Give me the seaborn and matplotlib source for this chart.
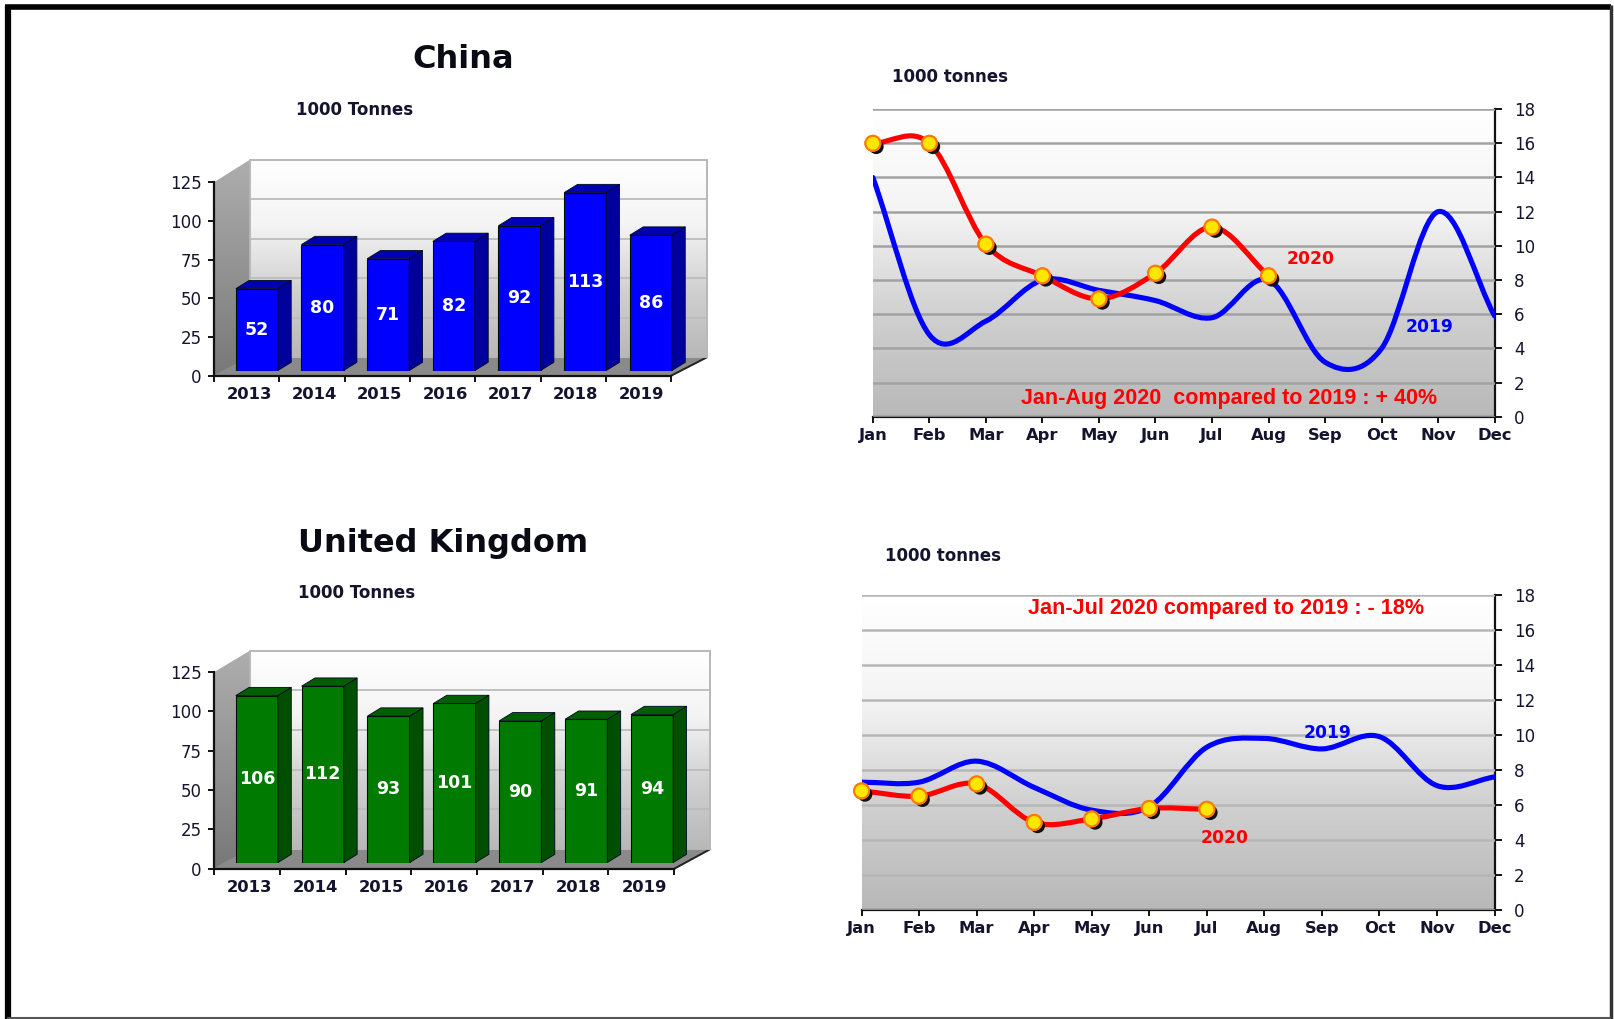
import numpy as np
import pandas as pd
import seaborn as sns
import matplotlib.pyplot as plt
import matplotlib.patheffects as pe
from matplotlib.path import Path
from matplotlib.patches import PathPatch, Polygon, Rectangle
from matplotlib.colors import LinearSegmentedColormap

years = ["2013", "2014", "2015", "2016", "2017", "2018", "2019"]
months = ["Jan", "Feb", "Mar", "Apr", "May", "Jun", "Jul", "Aug", "Sep", "Oct", "Nov", "Dec"]
china_years = [52, 80, 71, 82, 92, 113, 86]
uk_years = [106, 112, 93, 101, 90, 91, 94]
china_2019 = [14.0, 4.8, 5.6, 8.0, 7.4, 6.8, 5.8, 8.0, 3.2, 4.0, 12.0, 5.9]
china_2020 = [16.0, 16.0, 10.1, 8.25, 6.9, 8.4, 11.1, 8.25]
uk_2019 = [7.3, 7.3, 8.5, 7.0, 5.7, 5.9, 9.3, 9.8, 9.2, 9.9, 7.1, 7.6]
uk_2020 = [6.8, 6.5, 7.2, 5.0, 5.2, 5.8, 5.75]

sns.set_style("white")
plt.rcParams["font.family"] = ["DejaVu Sans"]

W, H = 1568, 990
INK = "#14142e"
fig = plt.figure(figsize=(16.14, 10.19), dpi=100)
wall_cmap = LinearSegmentedColormap.from_list("wall", ["#ffffff", "#f4f4f4", "#d0d0d0", "#b8b8b8"])
side_cmap = LinearSegmentedColormap.from_list("side", ["#aeaeae", "#787878"])
ramp = np.linspace(0, 1, 256).reshape(-1, 1)


def box(l, t, r, b, **kw):
    return fig.add_axes([l / W, 1 - b / H, (r - l) / W, (b - t) / H], **kw)


under = box(0, 0, W, H, zorder=0)
over = box(0, 0, W, H, zorder=10)
for a in (under, over):
    a.set_xlim(0, W)
    a.set_ylim(H, 0)
    a.axis("off")
    a.patch.set_alpha(0)


def bar_panel(values, face, side, top, wall, axis_r, y0, y125, first, pitch, base):
    l, t, r, b = wall
    # back wall, side wall and floor
    under.imshow(ramp, cmap=wall_cmap, extent=[l, r, b, t], aspect="auto", zorder=1)
    im = under.imshow(ramp, cmap=side_cmap, extent=[208, l, y0, t], aspect="auto", zorder=1)
    clip = Polygon([(208, y125), (l, t), (l, b), (208, y0)], transform=under.transData, fc="none", ec="none")
    under.add_patch(clip)
    im.set_clip_path(clip)
    under.add_patch(Polygon([(208, y0), (l, b), (r, b), (axis_r, y0)], fc="#8a8a8a", ec="#8a8a8a", zorder=2))
    under.plot([axis_r, r], [y0, b], color="#222222", lw=1.4, zorder=3)
    step = (b - t) / 5
    for i in range(1, 5):
        under.plot([l, r], [t + i * step] * 2, color="#bcbcbc", lw=1.3, zorder=3)
    under.add_patch(Rectangle((l, t), r - l, b - t, fc="none", ec="#b8b8b8", lw=1.4, zorder=3))
    under.set_xlim(0, W)
    under.set_ylim(H, 0)

    # axis frame
    frame = box(208, y125, axis_r, y0, zorder=2)
    frame.patch.set_alpha(0)
    frame.set_xlim(0, 7)
    frame.set_ylim(0, 125)
    sns.despine(ax=frame)
    for s in ("left", "bottom"):
        frame.spines[s].set_color("#111111")
        frame.spines[s].set_linewidth(1.6)
    frame.set_yticks(range(0, 126, 25))
    frame.tick_params(axis="y", left=True, length=4, width=1.4, color="#111111", labelsize=12,
                      labelcolor=INK, pad=5)
    frame.set_xticks(range(8))
    frame.set_xticklabels([])
    frame.tick_params(axis="x", which="major", bottom=True, length=4, width=1.4, color="#111111")
    frame.set_xticks(np.arange(0.54, 7), labels=years, minor=True)
    frame.tick_params(axis="x", which="minor", bottom=False, length=0, labelsize=11.8, labelcolor=INK, pad=8)
    for lab in frame.get_xticklabels(minor=True):
        lab.set_fontweight("bold")

    # bars in 3D look, front faces from seaborn
    unit = 1.53
    ax = box(first - pitch / 2, base - 125 * unit, first + 6.5 * pitch, base, zorder=3)
    ax.patch.set_alpha(0)
    df = pd.DataFrame({"year": years, "value": values})
    sns.barplot(data=df, x="year", y="value", color=face, saturation=1, width=0.64,
                edgecolor="#001000", linewidth=0.8, ax=ax)
    ax.set_xlim(-0.5, 6.5)
    ax.set_ylim(0, 125)
    ax.axis("off")
    dx, dy = 13 / pitch, 8 / unit
    for p in ax.patches:
        x0, x1, h = p.get_x(), p.get_x() + p.get_width(), p.get_height()
        ax.fill([x1, x1 + dx, x1 + dx, x1], [0, dy, h + dy, h], fc=side, ec="#000820", lw=0.6, clip_on=False)
        ax.fill([x0, x0 + dx, x1 + dx, x1], [h, h + dy, h + dy, h], fc=top, ec="#000820", lw=0.6, clip_on=False)
    ax.bar_label(ax.containers[0], label_type="center", color="white", fontweight="bold", fontsize=12.5)


def smooth(ax, values, color):
    df = pd.DataFrame({"month": months[:len(values)], "value": values})
    sns.lineplot(data=df, x="month", y="value", sort=False, color=color, lw=0, ax=ax)
    pts = ax.lines[-1].get_xydata()
    # Excel style smoothed line: Bezier through the monthly values
    tang = np.gradient(pts, axis=0)
    tang[1:-1] = (pts[2:] - pts[:-2]) / 2
    verts, codes = [pts[0]], [Path.MOVETO]
    for i in range(len(pts) - 1):
        verts += [pts[i] + tang[i] / 3, pts[i + 1] - tang[i + 1] / 3, pts[i + 1]]
        codes += [Path.CURVE4] * 3
    ax.add_patch(PathPatch(Path(verts, codes), fc="none", ec=color, lw=3.7, zorder=4,
                           capstyle="round", joinstyle="round"))
    return df


def line_panel(l, t, r, b, v2019, v2020, grid):
    ax = box(l, t, r, b, zorder=2)
    ax.imshow(ramp, cmap=wall_cmap, extent=[0, 11, 0, 18], aspect="auto", zorder=0)
    smooth(ax, v2019, "#0000ff")
    df = smooth(ax, v2020, "#ff0000")
    sns.scatterplot(data=df, x="month", y="value", s=115, color="#ffe600", edgecolor="#ff7a00", linewidth=1.5,
                    clip_on=False, zorder=5, ax=ax)
    ax.collections[-1].set_path_effects([
        pe.withSimplePatchShadow(offset=(2.4, -2.4), shadow_rgbFace="#111111", alpha=1), pe.Normal()])
    ax.set_xlim(0, 11)
    ax.set_ylim(0, 18)
    ax.set_xlabel("")
    ax.set_ylabel("")
    ax.grid(axis="y", color=grid, lw=1.8, zorder=1)
    ax.set_axisbelow(False)
    for g in ax.get_ygridlines():
        g.set_zorder(1)
    sns.despine(ax=ax, left=True, right=False)
    for s in ("right", "bottom"):
        ax.spines[s].set_color("#111111")
        ax.spines[s].set_linewidth(1.6)
    ax.yaxis.tick_right()
    ax.set_yticks(range(0, 19, 2))
    ax.set_xticks(range(12), labels=months)
    ax.tick_params(axis="y", right=True, length=5, width=1.4, color="#111111", labelsize=12,
                   labelcolor=INK, pad=9)
    ax.tick_params(axis="x", bottom=True, length=4, width=1.4, color="#111111", labelsize=11.8,
                   labelcolor=INK, pad=4)
    for lab in ax.get_xticklabels():
        lab.set_fontweight("bold")


bar_panel(china_years, "#0000ff", "#00009c", "#0000b4", (243, 155, 687, 347), 652, 365, 177, 249.5, 63.8, 360)
bar_panel(uk_years, "#007a00", "#004f00", "#005f00", (243, 632, 690, 825), 655, 844, 653, 249.5, 64.0, 838)
line_panel(848, 106, 1452, 405, china_2019, china_2020, "#a2a2a2")
line_panel(837, 578, 1452, 884, uk_2019, uk_2020, "#b6b6b6")


def note(x, y, s, size, color=INK, **kw):
    kw.setdefault("fontweight", "bold")
    over.text(x, y, s, fontsize=size, color=color, ha="center", va="center", **kw)


note(450, 58, "China", 23, "#0a0a14")
note(430, 528, "United Kingdom", 23, "#0a0a14")
note(344, 107, "1000 Tonnes", 12)
note(346, 576, "1000 Tonnes", 12)
note(923, 75, "1000 tonnes", 12)
note(916, 540, "1000 tonnes", 12)
note(1273, 252, "2020", 12.3, "#ff0000")
note(1389, 318, "2019", 12.3, "#0000ff")
note(1290, 712, "2019", 12.3, "#0000ff")
note(1190, 814, "2020", 12.3, "#ff0000")
note(1194, 387, "Jan-Aug 2020  compared to 2019 : + 40%", 15.5, "#ff0000", family="Liberation Sans")
note(1191, 591, "Jan-Jul 2020 compared to 2019 : - 18%", 15.6, "#ff0000", family="Liberation Sans")

# page border
over.plot([7.5, 7.5], [H, 6], color="black", lw=4.5, solid_capstyle="butt")
over.plot([5, W - 3], [6.5, 6.5], color="black", lw=4, solid_capstyle="butt")
over.plot([W - 3, W - 3], [5, H], color="#333333", lw=2.5, solid_capstyle="butt")
over.plot([7, W - 3], [H - 1, H - 1], color="#555555", lw=1.5, solid_capstyle="butt")

fig.savefig("out.png", dpi=100)
